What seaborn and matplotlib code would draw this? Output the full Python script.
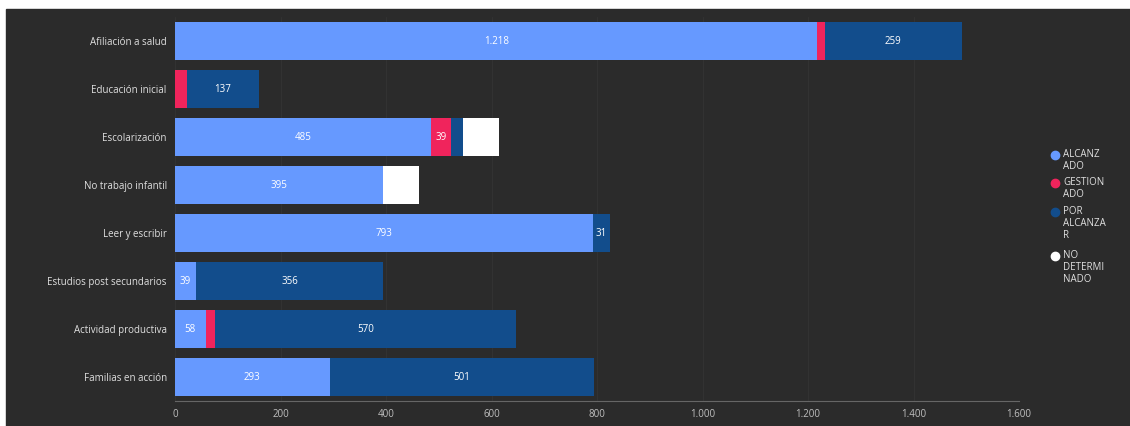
import numpy as np
import pandas as pd
import matplotlib.pyplot as plt
import seaborn as sns
from matplotlib.lines import Line2D
from matplotlib.patches import Rectangle

# values
categorias = ['Afiliación a salud', 'Educación inicial', 'Escolarización',
              'No trabajo infantil', 'Leer y escribir', 'Estudios post secundarios',
              'Actividad productiva', 'Familias en acción']
alcanzado = [1218, 0, 485, 395, 793, 39, 58, 293]
gestionado = [14, 22, 39, 0, 0, 0, 18, 0]
por_alcanzar = [259, 137, 22, 0, 31, 356, 570, 501]
no_determinado = [0, 0, 68, 68, 0, 0, 0, 0]

series_names = ['ALCANZ\nADO', 'GESTION\nADO', 'POR\nALCANZA\nR', 'NO\nDETERMI\nNADO']
colores = ['#6699FF', '#F0245C', '#124D8C', '#FFFFFF']
mostrar = [True, True, True, False]   # which segments carry a value label
min_label = 25

bg = '#2b2b2b'

sns.set_theme(style='dark')
plt.rcParams['font.family'] = ['Open Sans', 'DejaVu Sans']

df = pd.DataFrame({'categoria': categorias, 'a': alcanzado, 'g': gestionado,
                   'p': por_alcanzar, 'n': no_determinado})
segs = [df['a'], df['g'], df['p'], df['n']]
cum = np.cumsum(np.array(segs, dtype=float), axis=0)

W, H = 1130, 426
fig = plt.figure(figsize=(W / 100, H / 100), dpi=100)
fig.patch.set_facecolor('white')
fig.add_artist(Rectangle((6 / W, 0), 1, 1 - 9 / H, transform=fig.transFigure,
                         color=bg, zorder=-5))
ax = fig.add_axes([175 / W, 1 - 401 / H, 844 / W, 384 / H])
ax.set_facecolor(bg)

# stacked bars by overlaying cumulative totals, largest first
for i in range(3, -1, -1):
    tmp = pd.DataFrame({'categoria': categorias, 'valor': cum[i]})
    sns.barplot(data=tmp, y='categoria', x='valor', color=colores[i], orient='h',
                width=0.8, saturation=1, ax=ax, zorder=3, linewidth=0)

# value labels centred inside the segments
for i in range(4):
    if not mostrar[i]:
        continue
    for j, v in enumerate(segs[i]):
        if v < min_label and not (i == 1 and v >= 30):
            continue
        centro = cum[i][j] - v / 2
        txt = f'{v:,}'.replace(',', '.')
        ax.text(centro, j, txt, ha='center', va='center', color='white',
                fontsize=7, zorder=5)

ax.set_xlim(0, 1600)
ax.set_ylim(7.5, -0.5)
ax.set_xticks(range(0, 1601, 200))
ax.set_xticklabels([f'{t:,}'.replace(',', '.') for t in range(0, 1601, 200)])
ax.set_xlabel('')
ax.set_ylabel('')
ax.tick_params(axis='x', colors='#bfbfbf', labelsize=7, length=0, pad=6)
ax.tick_params(axis='y', colors='#e0e0e0', labelsize=7, length=0, pad=6)
ax.grid(axis='x', color='#323232', linewidth=0.8, zorder=0)
ax.grid(axis='y', visible=False)
for s in ['top', 'right', 'left']:
    ax.spines[s].set_visible(False)
ax.spines['bottom'].set_color('#666666')
ax.spines['bottom'].set_linewidth(0.8)

# legend built by hand so the dot sits on the first line of each wrapped label
leg_y = [155, 183, 212, 256]
for nombre, c, y in zip(series_names, colores, leg_y):
    fig.add_artist(Line2D([1055 / W], [1 - y / H], marker='o', linestyle='',
                          markersize=6, markerfacecolor=c, markeredgecolor=c,
                          transform=fig.transFigure))
    fig.text(1063 / W, 1 - (y - 6) / H, nombre, ha='left', va='top',
             fontsize=7, color='#e0e0e0', linespacing=1.1)

plt.savefig('out.png', dpi=100, facecolor=fig.get_facecolor())
